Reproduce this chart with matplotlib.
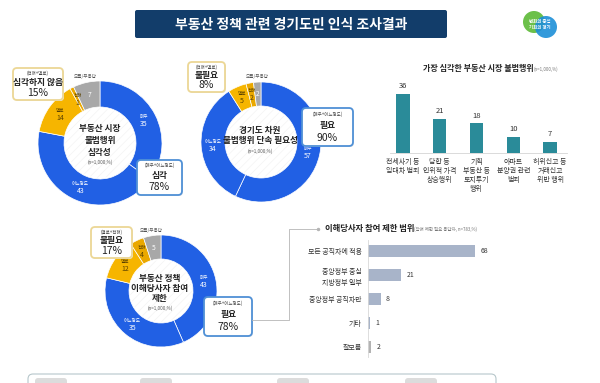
import matplotlib
matplotlib.use('Agg')
import matplotlib.pyplot as plt
from matplotlib.patches import FancyBboxPatch, Circle
import numpy as np

plt.rcParams['font.family'] = ['Noto Sans CJK KR', 'DejaVu Sans']
plt.rcParams['hatch.linewidth'] = 0.4

# ---- dati ----
ring_names = ['매우', '어느정도', '별로', '전혀', '모름/무응답']
d1_vals = [35, 43, 14, 1, 7]
d2_vals = [57, 34, 5, 2, 2]
d3_vals = [43, 35, 12, 4, 5]

d1_title = '부동산 시장\n불법행위\n심각성'
d2_title = '경기도 차원\n불법행위 단속 필요성'
d3_title = '부동산 정책\n이해당사자 참여\n제한'
n_note = '(n=1,000,%)'

d1_callouts = [('(전혀+별로)', '심각하지 않음', '15%'), ('(매우+어느정도)', '심각', '78%')]
d2_callouts = [('(전혀+별로)', '불필요', '8%'), ('(매우+어느정도)', '필요', '90%')]
d3_callouts = [('(별로+전혀)', '불필요', '17%'), ('(매우+어느정도)', '필요', '78%')]

top_title = '가장 심각한 부동산 시장 불법행위'
top_cats = ['전세사기 등\n임대차 범죄', '담합 등\n인위적 가격\n상승행위', '기획\n부동산 등\n토지투기\n행위',
            '아파트\n분양권 관련\n범죄', '허위신고 등\n거래신고\n위반 행위']
top_vals = [36, 21, 18, 10, 7]

scope_title = '이해당사자 참여 제한 범위'
scope_note = '(참여 제한 필요 응답자, n=783,%)'
scope_cats = ['모든 공직자에 적용', '중앙정부 중심\n지방정부 일부', '중앙정부 공직자만', '기타', '잘모름']
scope_vals = [68, 21, 8, 1, 2]

main_title = '부동산 정책 관련 경기도민 인식 조사결과'

# colori
BLUE = '#2160e4'
YEL = '#f6b500'
YEL2 = '#eaa800'
GRAY = '#a8a8a8'
ring_cols = [BLUE, BLUE, YEL, YEL2, GRAY]
ring_txt = ['white', 'white', '#5a4100', '#5a4100', 'white']

W, H = 600, 383
fig = plt.figure(figsize=(6, 3.83), dpi=100)
fig.patch.set_facecolor('white')


def px_axes(x0, y0, x1, y1):
    return fig.add_axes([x0 / W, 1 - y1 / H, (x1 - x0) / W, (y1 - y0) / H])


# sfondo: titolo e logo
bg = px_axes(0, 0, W, H)
bg.set_xlim(0, W); bg.set_ylim(H, 0); bg.axis('off')
bg.add_patch(FancyBboxPatch((135, 10), 312, 28, boxstyle='round,pad=0,rounding_size=2',
                            fc='#123d6a', ec='none'))
bg.text(291, 24.5, main_title, color='white', fontsize=10, fontweight='bold', ha='center', va='center')
bg.add_patch(Circle((534, 22), 11, fc='#6cc04a', ec='none'))
bg.add_patch(Circle((546, 27), 11, fc='#1d8fd8', ec='none', alpha=0.9))
bg.text(540, 24.5, '변화의 중심\n기회의 경기', color='white', fontsize=3.2, fontweight='bold',
        ha='center', va='center', linespacing=1.1)


def donut(cx, cy, R, r, vals):
    ax = px_axes(cx - R, cy - R, cx + R, cy + R)
    ax.pie(vals, colors=ring_cols, startangle=90, counterclock=False, radius=1,
           wedgeprops=dict(width=1 - r / R, edgecolor='white', linewidth=0.5))
    ax.add_patch(Circle((0, 0), r / R - 0.02, fc='white', ec='#f1f1f1', hatch='////', lw=0))
    ax.set_xlim(-1, 1); ax.set_ylim(-1, 1); ax.axis('off')
    tot = sum(vals)
    cum = 0
    rm = (1 + r / R) / 2
    for i, v in enumerate(vals):
        th = np.deg2rad(90 - 360 * (cum + v / 2) / tot)
        cum += v
        x, y = rm * np.cos(th), rm * np.sin(th)
        if i == len(vals) - 1:
            ax.text(1.1 * np.cos(th), 1.1 * np.sin(th), ring_names[i], fontsize=3.3, color='#555',
                    ha='center', va='center')
            ax.text(x, y, str(v), fontsize=4.8, color='white', ha='center', va='center')
        else:
            ax.text(x, y + 4 / R, ring_names[i], fontsize=3.3, color=ring_txt[i], ha='center', va='center')
            ax.text(x, y - 3.5 / R, str(v), fontsize=5, color=ring_txt[i], ha='center', va='center')
    return ax


donut(100, 143, 62, 36, d1_vals)
donut(261, 142, 60, 36, d2_vals)
donut(161, 291, 56, 32, d3_vals)

# grafico a barre verticale
axb = px_axes(390, 153 - 1.64 * 40, 567, 153)
axb.bar(range(len(top_vals)), top_vals, width=0.36, color='#2a8b99')
axb.set_ylim(0, 40)
axb.set_xlim(-0.354, 4.46)
for s in ['top', 'right', 'left']:
    axb.spines[s].set_visible(False)
axb.spines['bottom'].set_color('#d5d5d5'); axb.spines['bottom'].set_linewidth(0.6)
axb.set_yticks([])
axb.set_xticks(range(len(top_cats)))
axb.set_xticklabels(top_cats, fontsize=5, linespacing=1.2, color='#333')
axb.tick_params(axis='x', length=0, pad=3.5)
for i, v in enumerate(top_vals):
    axb.annotate(str(v), (i, v), xytext=(0, 2.5), textcoords='offset points', ha='center',
                 va='bottom', fontsize=5.5, color='#333')

# grafico a barre orizzontale
axh = px_axes(368, 240, 368 + 1.57 * 80, 357)
axh.barh(range(len(scope_vals)), scope_vals, height=0.54,
         color=['#a8b4c9'] * 4 + ['#b3b3b3'])
axh.set_xlim(0, 80)
axh.set_ylim(4.417, -0.458)
for s in ['top', 'right', 'bottom']:
    axh.spines[s].set_visible(False)
axh.spines['left'].set_color('#d8d8d8'); axh.spines['left'].set_linewidth(0.6)
axh.set_xticks([])
axh.set_yticks(range(len(scope_cats)))
axh.set_yticklabels(scope_cats, fontsize=5, linespacing=1.5, color='#333')
axh.tick_params(axis='y', length=0, pad=4.5)
for i, v in enumerate(scope_vals):
    axh.annotate(str(v), (v, i), xytext=(4, 0), textcoords='offset points', ha='left',
                 va='center', fontsize=5, color='#333')

# sovrapposizione: testi centrali, box di richiamo, connettore
ov = px_axes(0, 0, W, H)
ov.set_xlim(0, W); ov.set_ylim(H, 0); ov.axis('off')
ov.patch.set_alpha(0)


def center_text(cx, ys, lines):
    for y, t in zip(ys, lines):
        ov.text(cx, y, t, fontsize=6.2, fontweight='bold', color='#222', ha='center', va='center')


center_text(100, [128, 140, 152], d1_title.split('\n'))
ov.text(100, 162, n_note, fontsize=3.3, color='#555', ha='center', va='center')
center_text(260, [130, 141], d2_title.split('\n'))
ov.text(260, 151, n_note, fontsize=3.3, color='#555', ha='center', va='center')
center_text(160, [278, 288, 298], d3_title.split('\n'))
ov.text(160, 308, n_note, fontsize=3.3, color='#555', ha='center', va='center')


def callout(x0, y0, x1, y1, txt, ec):
    sub, main, pct = txt
    ov.add_patch(FancyBboxPatch((x0 + 1, y0 + 1), x1 - x0, y1 - y0,
                                boxstyle='round,pad=0,rounding_size=4', fc='#e9e9e9', ec='none'))
    ov.add_patch(FancyBboxPatch((x0, y0), x1 - x0, y1 - y0,
                                boxstyle='round,pad=0,rounding_size=4', fc='white', ec=ec, lw=1.3))
    cx = (x0 + x1) / 2
    h = y1 - y0
    ov.text(cx, y0 + h * 0.16, sub, fontsize=3.2, color='#444', ha='center', va='center')
    ov.text(cx, y0 + h * 0.45, main, fontsize=6.3, fontweight='bold', color='#222', ha='center', va='center')
    ov.text(cx, y0 + h * 0.78, pct, fontsize=7.5, color='#222', ha='center', va='center')


YB = '#ecd795'
BB = '#4f90d6'
callout(13, 68, 63, 100, d1_callouts[0], YB)
callout(137, 160, 182, 195, d1_callouts[1], BB)
callout(188, 62, 225, 92, d2_callouts[0], YB)
callout(302, 108, 353, 146, d2_callouts[1], BB)
callout(91, 227, 132, 258, d3_callouts[0], YB)
callout(204, 297, 252, 336, d3_callouts[1], BB)

# titoli dei grafici a barre
ov.text(423, 69, top_title, fontsize=5.8, fontweight='bold', color='#222', ha='left', va='center')
ov.text(534, 69.5, n_note, fontsize=3.2, color='#777', ha='left', va='center')
ov.text(325, 229, scope_title, fontsize=6, fontweight='bold', color='#222', ha='left', va='center')
ov.text(414, 229.5, scope_note, fontsize=3.2, color='#777', ha='left', va='center')

# connettore
ov.plot([252, 289, 289, 318], [320, 320, 229, 229], color='#b5b5b5', lw=0.6)
ov.plot([318], [229], marker='o', ms=1.5, color='#b5b5b5')

# striscia in basso
ov.add_patch(FancyBboxPatch((28, 374), 468, 25, boxstyle='round,pad=0,rounding_size=5',
                            fc='white', ec='#b7c7cb', lw=0.8))
for px0 in [35, 140, 277, 405]:
    ov.add_patch(FancyBboxPatch((px0, 378), 32, 8, boxstyle='round,pad=0,rounding_size=3',
                                fc='#dcdcdc', ec='none'))

fig.savefig('out.png', dpi=100)
